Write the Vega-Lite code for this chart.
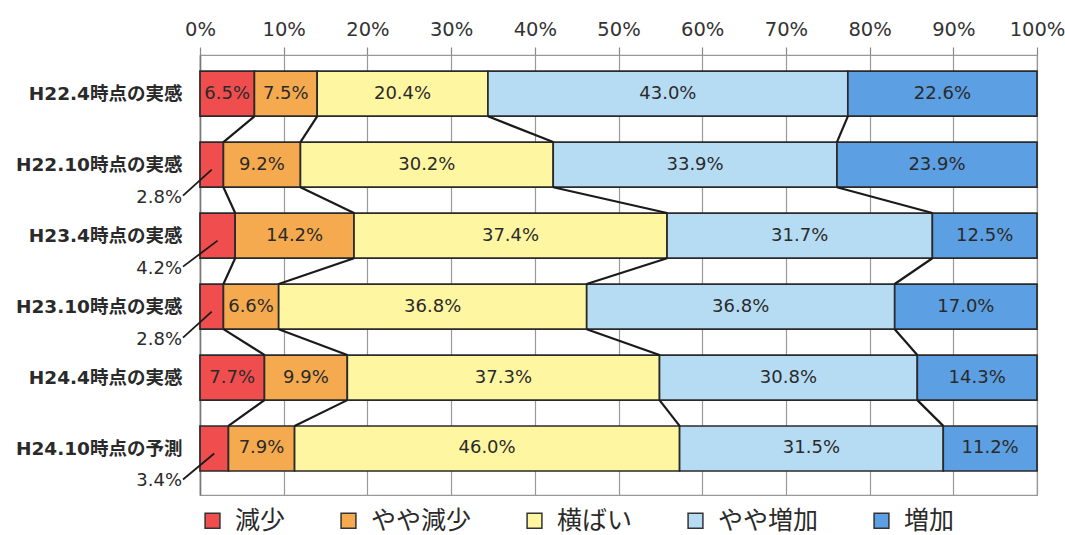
{
  "$schema": "https://vega.github.io/schema/vega-lite/v6.json",
  "autosize": {"type": "none"},
  "width": 837,
  "height": 440,
  "padding": {"left": 200, "top": 55, "right": 28, "bottom": 40},
  "background": "white",
  "config": {
    "font": "DejaVu Sans, Noto Sans CJK JP",
    "view": {"stroke": "#999", "strokeWidth": 1.2}
  },
  "data": {
    "values": [
      {"row": "H22.4時点の実感", "cat": "減少", "value": 6.5},
      {"row": "H22.4時点の実感", "cat": "やや減少", "value": 7.5},
      {"row": "H22.4時点の実感", "cat": "横ばい", "value": 20.4},
      {"row": "H22.4時点の実感", "cat": "やや増加", "value": 43.0},
      {"row": "H22.4時点の実感", "cat": "増加", "value": 22.6},
      {"row": "H22.10時点の実感", "cat": "減少", "value": 2.8},
      {"row": "H22.10時点の実感", "cat": "やや減少", "value": 9.2},
      {"row": "H22.10時点の実感", "cat": "横ばい", "value": 30.2},
      {"row": "H22.10時点の実感", "cat": "やや増加", "value": 33.9},
      {"row": "H22.10時点の実感", "cat": "増加", "value": 23.9},
      {"row": "H23.4時点の実感", "cat": "減少", "value": 4.2},
      {"row": "H23.4時点の実感", "cat": "やや減少", "value": 14.2},
      {"row": "H23.4時点の実感", "cat": "横ばい", "value": 37.4},
      {"row": "H23.4時点の実感", "cat": "やや増加", "value": 31.7},
      {"row": "H23.4時点の実感", "cat": "増加", "value": 12.5},
      {"row": "H23.10時点の実感", "cat": "減少", "value": 2.8},
      {"row": "H23.10時点の実感", "cat": "やや減少", "value": 6.6},
      {"row": "H23.10時点の実感", "cat": "横ばい", "value": 36.8},
      {"row": "H23.10時点の実感", "cat": "やや増加", "value": 36.8},
      {"row": "H23.10時点の実感", "cat": "増加", "value": 17.0},
      {"row": "H24.4時点の実感", "cat": "減少", "value": 7.7},
      {"row": "H24.4時点の実感", "cat": "やや減少", "value": 9.9},
      {"row": "H24.4時点の実感", "cat": "横ばい", "value": 37.3},
      {"row": "H24.4時点の実感", "cat": "やや増加", "value": 30.8},
      {"row": "H24.4時点の実感", "cat": "増加", "value": 14.3},
      {"row": "H24.10時点の予測", "cat": "減少", "value": 3.4},
      {"row": "H24.10時点の予測", "cat": "やや減少", "value": 7.9},
      {"row": "H24.10時点の予測", "cat": "横ばい", "value": 46.0},
      {"row": "H24.10時点の予測", "cat": "やや増加", "value": 31.5},
      {"row": "H24.10時点の予測", "cat": "増加", "value": 11.2}
    ]
  },
  "transform": [
    {"calculate": "indexof(['減少','やや減少','横ばい','やや増加','増加'], datum.cat)", "as": "k"},
    {"calculate": "indexof(['H22.4時点の実感','H22.10時点の実感','H23.4時点の実感','H23.10時点の実感','H24.4時点の実感','H24.10時点の予測'], datum.row)", "as": "r"},
    {"stack": "value", "groupby": ["row"], "sort": [{"field": "k", "order": "ascending"}], "as": ["c0", "c1"]},
    {"calculate": "(datum.c0 + datum.c1) / 2", "as": "mid"},
    {"calculate": "format(datum.value, '.1f') + '%'", "as": "label"},
    {"window": [{"op": "lead", "field": "c1", "as": "n1"}, {"op": "lead", "field": "r", "as": "nr"}], "groupby": ["cat"], "sort": [{"field": "r", "order": "ascending"}]}
  ],
  "encoding": {
    "y": {
      "field": "r",
      "type": "quantitative",
      "scale": {"domain": [-0.475, 5.585], "reverse": true, "nice": false, "zero": false},
      "axis": {"title": null, "ticks": false, "grid": false, "domain": true, "domainColor": "#777", "domainWidth": 1.5, "values": [0, 1, 2, 3, 4, 5], "labelExpr": "['H22.4時点の実感','H22.10時点の実感','H23.4時点の実感','H23.10時点の実感','H24.4時点の実感','H24.10時点の予測'][datum.value]", "labelFontSize": 18.5, "labelColor": "#2a2a2a", "labelPadding": 18, "labelFontWeight": "bold"}
    }
  },
  "layer": [
    {
      "mark": {"type": "bar", "stroke": "#2a2a2a", "strokeWidth": 1.7, "size": 45},
      "encoding": {
        "x": {
          "field": "c0",
          "type": "quantitative",
          "scale": {"domain": [0, 100], "nice": false},
          "axis": {"orient": "top", "title": null, "values": [0, 10, 20, 30, 40, 50, 60, 70, 80, 90, 100], "labelExpr": "datum.value + '%'", "labelFlush": false, "labelOverlap": false, "grid": true, "gridColor": "#999", "gridWidth": 1.2, "domainColor": "#999", "domainWidth": 1.2, "tickColor": "#888", "tickWidth": 1.2, "tickSize": 8, "labelFontSize": 19.5, "labelColor": "#333", "labelPadding": 8}
        },
        "x2": {"field": "c1"},
        "color": {
          "field": "cat",
          "type": "nominal",
          "scale": {
            "domain": ["減少", "やや減少", "横ばい", "やや増加", "増加"],
            "range": ["#F04E4E", "#F6AA50", "#FFF6A2", "#B6DCF4", "#5C9FE2"]
          },
          "legend": {
            "title": null,
            "orient": "bottom",
            "direction": "horizontal",
            "offset": 13,
            "padding": 0,
            "symbolType": "square",
            "symbolSize": 220,
            "symbolStrokeColor": "#333",
            "symbolStrokeWidth": 1.5,
            "labelFont": "Noto Sans CJK JP",
            "labelFontSize": 25,
            "labelColor": "#2a2a2a",
            "labelOffset": 10,
            "columnPadding": 50
          }
        }
      }
    },
    {
      "transform": [{"filter": "datum.k < 4 && datum.nr != null"}],
      "mark": {"type": "rule", "color": "#1a1a1a", "strokeWidth": 2.2, "yOffset": 22.6, "y2Offset": -22.6},
      "encoding": {
        "x": {"field": "c1", "type": "quantitative"},
        "x2": {"field": "n1"},
        "y2": {"field": "nr"}
      }
    },
    {
      "transform": [{"filter": "datum.value >= 5"}],
      "mark": {"type": "text", "fontSize": 18, "color": "#2a2a2a"},
      "encoding": {
        "x": {"field": "mid", "type": "quantitative"},
        "text": {"field": "label"}
      }
    },
    {
      "transform": [{"filter": "datum.value < 5"}],
      "mark": {"type": "text", "fontSize": 18, "color": "#2a2a2a", "align": "right", "dx": -18, "dy": 33},
      "encoding": {
        "x": {"field": "c0", "type": "quantitative"},
        "text": {"field": "label"}
      }
    },
    {
      "transform": [{"filter": "datum.value < 5"}],
      "mark": {"type": "rule", "color": "#1a1a1a", "strokeWidth": 1.8, "xOffset": -17, "yOffset": 31, "y2Offset": 5},
      "encoding": {
        "x": {"field": "c0", "type": "quantitative"},
        "x2": {"field": "mid"},
        "y2": {"field": "r"}
      }
    }
  ]
}
